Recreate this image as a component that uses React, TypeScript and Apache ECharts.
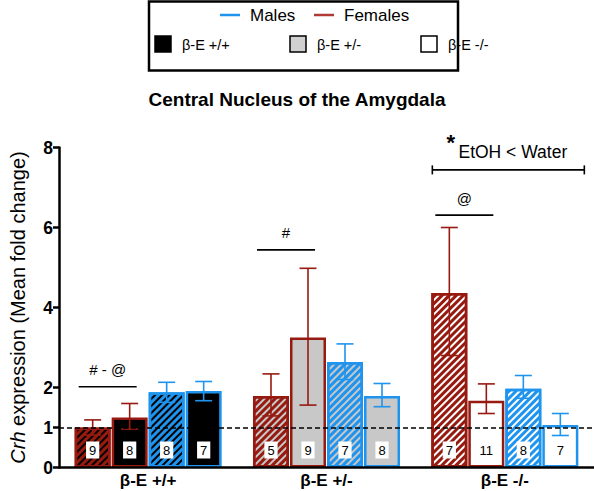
import React, { useEffect, useRef } from 'react';
import * as echarts from 'echarts';

// ---------- data ----------
const categories = ['β-E +/+', 'β-E +/-', 'β-E -/-'];

const femaleEtOH = [1.0, 1.79, 4.36];
const femaleEtOHLow = [0.81, 1.29, 2.8];
const femaleEtOHHigh = [1.19, 2.34, 6.0];
const femaleEtOHN = [9, 5, 7];

const femaleWater = [1.25, 3.25, 1.67];
const femaleWaterLow = [0.96, 1.56, 1.35];
const femaleWaterHigh = [1.6, 4.98, 2.09];
const femaleWaterN = [8, 9, 11];

const maleEtOH = [1.88, 2.64, 1.97];
const maleEtOHLow = [1.63, 2.2, 1.73];
const maleEtOHHigh = [2.13, 3.09, 2.3];
const maleEtOHN = [8, 7, 8];

const maleWater = [1.91, 1.79, 1.06];
const maleWaterLow = [1.67, 1.52, 0.8];
const maleWaterHigh = [2.15, 2.1, 1.35];
const maleWaterN = [7, 8, 7];

const yTicks = [0, 1, 2, 4, 6, 8];
const referenceLevel = 1;

const sigCategories = [0, 1, 2];
const sigLabels = ['# - @', '#', '@'];
const sigHeights = [2.02, 5.44, 6.31];

const bracketCategory = 2;
const bracketHeight = 7.44;
const bracketLabel = 'EtOH < Water';

const legendSexes = ['Males', 'Females'];
const legendGenotypes = ['β-E +/+', 'β-E +/-', 'β-E -/-'];
const chartTitle = 'Central Nucleus of the Amygdala';

// ---------- styles ----------
const FONT = '"Liberation Sans", Arial, Helvetica, sans-serif';
const RED = '#961a10';
const BLUE = '#1e94ee';
const LEGEND_RED = '#b03a36';
const GENO_FILL = ['#000000', '#c8c8c8', '#ffffff'];
const LEGEND_FILL = ['#000000', '#d0d0d0', '#ffffff'];
const BAR_W = 36;
const BAR_GAP = 1;
const BAR_OFFSETS = [-1.5, -0.5, 0.5, 1.5].map((k) => k * (BAR_W + BAR_GAP));

const groups = [
  { name: 'Females EtOH', values: femaleEtOH, low: femaleEtOHLow, high: femaleEtOHHigh, n: femaleEtOHN, color: RED, hatched: true },
  { name: 'Females Water', values: femaleWater, low: femaleWaterLow, high: femaleWaterHigh, n: femaleWaterN, color: RED, hatched: false },
  { name: 'Males EtOH', values: maleEtOH, low: maleEtOHLow, high: maleEtOHHigh, n: maleEtOHN, color: BLUE, hatched: true },
  { name: 'Males Water', values: maleWater, low: maleWaterLow, high: maleWaterHigh, n: maleWaterN, color: BLUE, hatched: false },
];

function buildOption(): any {
  const barSeries = groups.map((g, gi) => ({
    type: 'bar',
    name: g.name,
    barWidth: BAR_W,
    barGap: ((BAR_GAP / BAR_W) * 100).toFixed(1) + '%',
    z: 2,
    data: g.values.map((v, i) => ({
      value: v,
      itemStyle: {
        color: GENO_FILL[i],
        borderColor: g.color,
        borderWidth: 2.5,
        decal: g.hatched
          ? {
              symbol: 'rect',
              symbolSize: 1,
              color: g.color,
              dashArrayX: [1, 0],
              dashArrayY: [2.2, 2],
              rotation: -Math.PI / 4,
            }
          : undefined,
      },
    })),
    label: {
      show: true,
      position: 'insideBottom',
      distance: 9,
      formatter: (p: any) => String(g.n[p.dataIndex]),
      backgroundColor: '#ffffff',
      padding: [2, 3, 1, 3],
      lineHeight: 14,
      color: '#000',
      fontSize: 13,
      fontFamily: FONT,
    },
    markLine:
      gi === 0
        ? {
            silent: true,
            symbol: 'none',
            z: 5,
            label: { show: false },
            lineStyle: { type: [5, 3], color: '#000', width: 1.5 },
            data: [{ yAxis: referenceLevel }],
          }
        : undefined,
  }));

  const errData: number[][] = [];
  groups.forEach((g, s) => g.values.forEach((_, i) => errData.push([i, s, g.low[i], g.high[i]])));

  const errSeries = {
    type: 'custom',
    name: 'error',
    z: 4,
    silent: true,
    encode: { x: 0, y: [2, 3] },
    data: errData,
    renderItem: (params: any, api: any) => {
      const cat = api.value(0);
      const s = api.value(1);
      const lo = api.coord([cat, api.value(2)]);
      const hi = api.coord([cat, api.value(3)]);
      const x = lo[0] + BAR_OFFSETS[s];
      const st = { stroke: groups[s].color, lineWidth: 1.6 };
      return {
        type: 'group',
        children: [
          { type: 'line', shape: { x1: x, y1: hi[1], x2: x, y2: lo[1] }, style: st },
          { type: 'line', shape: { x1: x - 8.5, y1: hi[1], x2: x + 8.5, y2: hi[1] }, style: st },
          { type: 'line', shape: { x1: x - 8.5, y1: lo[1], x2: x + 8.5, y2: lo[1] }, style: st },
        ],
      };
    },
  };

  const sigSeries = {
    type: 'custom',
    name: 'sig',
    z: 4,
    silent: true,
    encode: { x: 0, y: 1 },
    data: sigCategories.map((c, i) => [c, sigHeights[i]]),
    renderItem: (params: any, api: any) => {
      const p = api.coord([api.value(0), api.value(1)]);
      const x1 = p[0] + BAR_OFFSETS[0] - 14;
      const x2 = p[0] + BAR_OFFSETS[1] + 7;
      return {
        type: 'group',
        children: [
          { type: 'line', shape: { x1, y1: p[1], x2, y2: p[1] }, style: { stroke: '#000', lineWidth: 1.6 } },
          {
            type: 'text',
            x: (x1 + x2) / 2,
            y: p[1] - 17,
            style: {
              text: sigLabels[params.dataIndex],
              fontSize: 15,
              fontFamily: FONT,
              fill: '#000',
              align: 'center',
              verticalAlign: 'middle',
            },
          },
        ],
      };
    },
  };

  const bracketSeries = {
    type: 'custom',
    name: 'bracket',
    z: 4,
    silent: true,
    encode: { x: 0, y: 1 },
    data: [[bracketCategory, bracketHeight]],
    renderItem: (params: any, api: any) => {
      const p = api.coord([api.value(0), api.value(1)]);
      const x1 = p[0] + BAR_OFFSETS[0] - 17;
      const x2 = p[0] + BAR_OFFSETS[3] + 24;
      const st = { stroke: '#000', lineWidth: 1.6 };
      return {
        type: 'group',
        children: [
          { type: 'line', shape: { x1, y1: p[1], x2, y2: p[1] }, style: st },
          { type: 'line', shape: { x1, y1: p[1] - 4.5, x2: x1, y2: p[1] + 4.5 }, style: st },
          { type: 'line', shape: { x1: x2, y1: p[1] - 4.5, x2, y2: p[1] + 4.5 }, style: st },
          {
            type: 'text',
            x: p[0] + 8,
            y: p[1] - 18,
            style: {
              text: bracketLabel,
              fontSize: 17.5,
              fontFamily: FONT,
              fill: '#000',
              align: 'center',
              verticalAlign: 'middle',
            },
          },
          {
            type: 'text',
            x: p[0] - 54,
            y: p[1] - 27,
            style: {
              text: '*',
              fontSize: 22,
              fontWeight: 'bold',
              fontFamily: FONT,
              fill: '#000',
              align: 'center',
              verticalAlign: 'middle',
            },
          },
        ],
      };
    },
  };

  const legend: any[] = [
    {
      type: 'rect',
      shape: { x: 149, y: 1.5, width: 309, height: 69 },
      style: { fill: '#fff', stroke: '#000', lineWidth: 2.5 },
    },
  ];
  const sexColors = [BLUE, LEGEND_RED];
  const sexLineX = [220, 314];
  legendSexes.forEach((s, i) => {
    legend.push({
      type: 'line',
      shape: { x1: sexLineX[i], y1: 15, x2: sexLineX[i] + 20, y2: 15 },
      style: { stroke: sexColors[i], lineWidth: 2.5 },
    });
    legend.push({
      type: 'text',
      x: sexLineX[i] + 30,
      y: 15,
      style: { text: s, fontSize: 17, fontFamily: FONT, fill: '#000', verticalAlign: 'middle' },
    });
  });
  const genoX = [155, 290, 421];
  legendGenotypes.forEach((gname, i) => {
    legend.push({
      type: 'rect',
      shape: { x: genoX[i], y: 36, width: 16, height: 16 },
      style: { fill: LEGEND_FILL[i], stroke: '#000', lineWidth: 1.5 },
    });
    legend.push({
      type: 'text',
      x: genoX[i] + 27,
      y: 44.5,
      style: { text: gname, fontSize: 14.5, fontFamily: FONT, fill: '#000', verticalAlign: 'middle' },
    });
  });
  legend.push({
    type: 'text',
    x: 297,
    y: 99,
    style: {
      text: chartTitle,
      fontSize: 19,
      fontWeight: 'bold',
      fontFamily: FONT,
      fill: '#000',
      align: 'center',
      verticalAlign: 'middle',
    },
  });

  return {
    animation: false,
    backgroundColor: '#ffffff',
    textStyle: { fontFamily: FONT },
    grid: { left: 52, right: 0, top: 147.5, bottom: 23.5, containLabel: false },
    xAxis: {
      type: 'category',
      data: categories,
      axisLine: { lineStyle: { color: '#000', width: 2.5 } },
      axisTick: { show: false },
      axisLabel: { color: '#000', fontSize: 17, fontWeight: 'bold', fontFamily: FONT, margin: 4 },
      z: 6,
    },
    yAxis: {
      type: 'value',
      min: 0,
      max: 8,
      interval: 2,
      name: '{it|Crh} expression (Mean fold change)',
      nameLocation: 'middle',
      nameGap: 31,
      nameTextStyle: {
        color: '#000',
        fontSize: 20,
        fontFamily: FONT,
        rich: { it: { fontStyle: 'italic', fontSize: 20, fontFamily: FONT, color: '#000' } },
      },
      axisLine: { show: true, lineStyle: { color: '#000', width: 2.5 } },
      axisTick: { show: true, length: 6, lineStyle: { color: '#000', width: 2.5 }, customValues: yTicks },
      axisLabel: { color: '#000', fontSize: 17.5, fontWeight: 'bold', fontFamily: FONT, margin: 6, customValues: yTicks },
      splitLine: { show: false },
      z: 6,
    },
    series: [...barSeries, errSeries, sigSeries, bracketSeries],
    graphic: legend,
  };
}

export default function App() {
  const ref = useRef<HTMLDivElement>(null);
  useEffect(() => {
    if (!ref.current) return;
    const chart = echarts.init(ref.current, undefined, { renderer: 'svg' });
    chart.setOption(buildOption());
    return () => chart.dispose();
  }, []);
  return (
    <div
      ref={ref}
      style={{ position: 'fixed', left: 0, top: 0, width: 594, height: 491, background: '#fff' }}
    />
  );
}
